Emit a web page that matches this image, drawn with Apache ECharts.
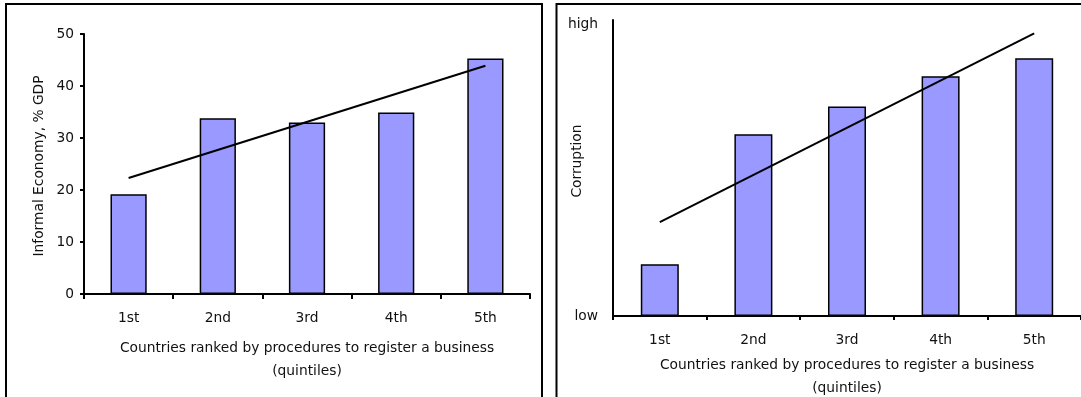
<!DOCTYPE html>
<html>
<head>
<meta charset="utf-8">
<script src="https://cdn.jsdelivr.net/npm/echarts@6/dist/echarts.min.js"></script>
<style>
  html, body { margin: 0; padding: 0; background: #fff; }
  #chart { width: 1081px; height: 397px; }
</style>
</head>
<body>
<div id="chart"></div>
<script>
// Quintiles of countries ranked by procedures to register a business
const quintiles = ['1st', '2nd', '3rd', '4th', '5th'];

// Left panel: informal economy, % of GDP
const informalEconomy = [19.2, 33.8, 33.0, 34.9, 45.3];
const informalTrend = [22.3, null, null, null, 43.9];
const informalTicks = [0, 10, 20, 30, 40, 50];

// Right panel: corruption index on a low..high scale (0..10)
const corruption = [1.75, 6.14, 7.08, 8.10, 8.71];
const corruptionTrend = [3.17, null, null, null, 9.55];
const corruptionScale = { 0: 'low', 10: 'high' };

const xTitle = 'Countries ranked by procedures to register a business\n(quintiles)';
const FONT = 'DejaVu Sans, Liberation Sans, Arial, sans-serif';
const FS = 13.8;
const TXT = '#111';
const BAR = '#9999ff';

const chart = echarts.init(document.getElementById('chart'), null, { renderer: 'canvas' });

function xAxisCfg(gridIndex, nameGap, tickLen) {
  return {
    type: 'category',
    gridIndex,
    data: quintiles,
    boundaryGap: true,
    axisLine: { lineStyle: { color: '#000', width: 2 } },
    axisTick: { show: true, length: tickLen, lineStyle: { color: '#000', width: 2 } },
    axisLabel: { color: TXT, fontFamily: FONT, fontSize: FS, margin: 17 },
    name: xTitle,
    nameLocation: 'middle',
    nameGap,
    nameMoveOverlap: false,
    nameTextStyle: { color: TXT, fontFamily: FONT, fontSize: FS, lineHeight: 23 }
  };
}

chart.setOption({
  animation: false,
  textStyle: { fontFamily: FONT },
  graphic: [
    { type: 'rect', shape: { x: 6, y: 4, width: 536, height: 400 },
      style: { fill: null, stroke: '#000', lineWidth: 2 }, z: 100 },
    { type: 'rect', shape: { x: 556.5, y: 4, width: 540, height: 400 },
      style: { fill: null, stroke: '#000', lineWidth: 2 }, z: 100 }
  ],
  grid: [
    { left: 84, top: 34, width: 446, height: 260, outerBoundsMode: 'none', containLabel: false },
    { left: 613, top: 20, width: 468, height: 296, outerBoundsMode: 'none', containLabel: false }
  ],
  xAxis: [
    xAxisCfg(0, 43, 5),
    xAxisCfg(1, 38, 4)
  ],
  yAxis: [
    {
      type: 'value',
      gridIndex: 0,
      min: informalTicks[0],
      max: informalTicks[informalTicks.length - 1],
      interval: informalTicks[1] - informalTicks[0],
      splitLine: { show: false },
      axisLine: { show: true, lineStyle: { color: '#000', width: 2 } },
      axisTick: { show: true, length: 4, lineStyle: { color: '#000', width: 2 } },
      axisLabel: { color: TXT, fontFamily: FONT, fontSize: FS, margin: 10 },
      name: 'Informal Economy, % GDP',
      nameLocation: 'middle',
      nameGap: 38,
      nameMoveOverlap: false,
      nameTextStyle: { color: TXT, fontFamily: FONT, fontSize: FS, padding: [0, 4, 0, 0] }
    },
    {
      type: 'value',
      gridIndex: 1,
      min: 0,
      max: 10,
      interval: 10,
      splitLine: { show: false },
      axisLine: { show: true, lineStyle: { color: '#000', width: 2 } },
      axisTick: { show: false },
      axisLabel: {
        color: TXT, fontFamily: FONT, fontSize: FS, margin: 15,
        formatter: v => v === 10 ? '{hi|' + corruptionScale[v] + '}' : (corruptionScale[v] || ''),
        rich: { hi: { color: TXT, fontFamily: FONT, fontSize: FS, padding: [8, 0, 0, 0] } }
      },
      name: 'Corruption',
      nameLocation: 'middle',
      nameGap: 29,
      nameMoveOverlap: false,
      nameTextStyle: { color: TXT, fontFamily: FONT, fontSize: FS, padding: [0, 0, 0, 14] }
    }
  ],
  series: [
    {
      type: 'bar', xAxisIndex: 0, yAxisIndex: 0,
      data: informalEconomy, barWidth: '40.6%',
      itemStyle: { color: BAR, borderColor: '#000', borderWidth: 1.5 }
    },
    {
      type: 'line', xAxisIndex: 0, yAxisIndex: 0,
      data: informalTrend, connectNulls: true, showSymbol: false, symbol: 'none',
      lineStyle: { color: '#000', width: 2 }, z: 5
    },
    {
      type: 'bar', xAxisIndex: 1, yAxisIndex: 1,
      data: corruption, barWidth: '40.6%',
      itemStyle: { color: BAR, borderColor: '#000', borderWidth: 1.5 }
    },
    {
      type: 'line', xAxisIndex: 1, yAxisIndex: 1,
      data: corruptionTrend, connectNulls: true, showSymbol: false, symbol: 'none',
      lineStyle: { color: '#000', width: 2 }, z: 5
    }
  ]
});
</script>
</body>
</html>
